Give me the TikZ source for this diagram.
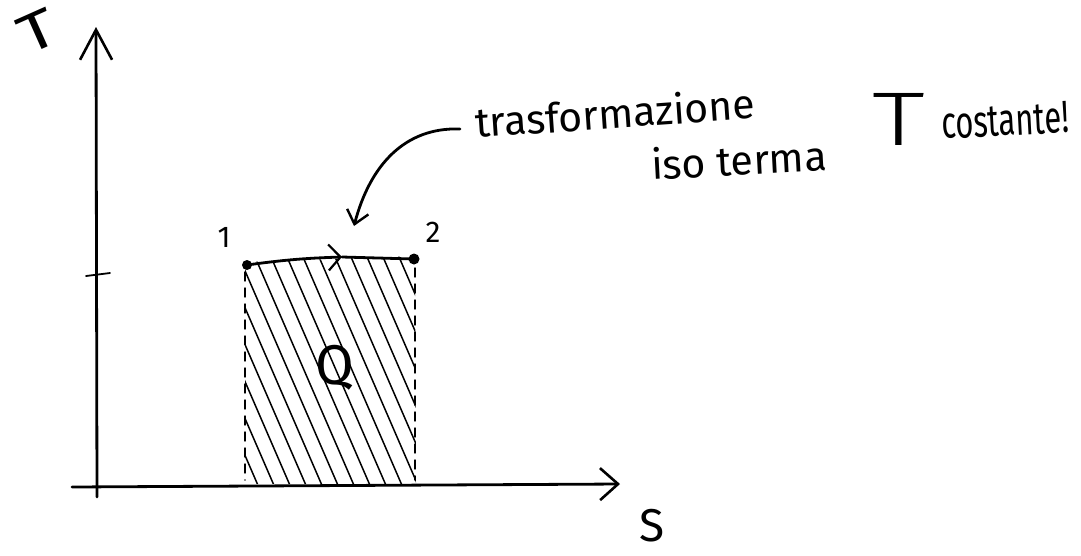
\documentclass[tikz,border=0pt]{standalone}
\usepackage{fontspec}
\usepackage{graphicx}
\setmainfont{Fira Sans}
\newfontfamily\lightfont{Fira Sans Light}
\usetikzlibrary{arrows.meta}
\begin{document}
\begin{tikzpicture}[x=1pt,y=-1pt,line cap=round,line join=round,
  ink/.style={line width=2.8pt,black},
  thin ink/.style={line width=1.4pt,black},
  smalltip/.style={-{Straight Barb[length=12pt,width=26pt,line width=2.2pt]}},
  curvetip/.style={-{Straight Barb[length=13pt,width=22pt,line width=2.4pt]}},
  lbl/.style={inner sep=0pt,font=\fontsize{30}{30}\selectfont},
  hand/.style={inner sep=0pt,anchor=base west}]
\useasboundingbox (0,0) rectangle (1081,555);
% axes
\coordinate (yb) at (97,497);
\coordinate (yt) at (96,27);
\coordinate (xl) at (72,487);
\coordinate (xr) at (620,484);
\draw[ink,-{Straight Barb[length=30pt,width=32pt,line width=2.6pt]}] (yb) -- (yt);
\draw[ink,-{Straight Barb[length=18pt,width=32pt,line width=2.6pt]}] (xl) -- (xr);
% tick
\coordinate (tk1) at (86,276);
\coordinate (tk2) at (110,273);
\draw[line width=1.8pt] (tk1) -- (tk2);
% axis labels
\node[lbl,rotate=24,font=\fontsize{54}{54}\selectfont] (T) at (38,31) {\scalebox{1.3}[1]{T}};
\node[lbl,font=\fontsize{46}{46}\selectfont] (S) at (652,526) {S};
% hatched region
\begin{scope}
  \clip (245,262) -- (415,256) -- (416,484) -- (245,484) -- cycle;
  \foreach \s in {140,156,...,430} {
    \draw[thin ink,line width=1.5pt] (\s,250) -- (\s+104,490);
  }
\end{scope}
\coordinate (d1t) at (245,272);
\coordinate (d1b) at (245,480);
\coordinate (d2t) at (415,268);
\coordinate (d2b) at (415,480);
\draw[thin ink,dash pattern=on 9pt off 7pt] (d1t) -- (d1b);
\draw[thin ink,dash pattern=on 9pt off 7pt] (d2t) -- (d2b);
% states
\node[circle,fill=black,inner sep=0pt,minimum size=10pt] (p1) at (247,265) {};
\node[circle,fill=black,inner sep=0pt,minimum size=11pt] (p2) at (414,259) {};
\coordinate (mid) at (342,257);
\draw[ink,smalltip] (p1.center) to[bend left=3] (mid);
\draw[ink] (mid) -- (p2.center);
\node[lbl] (n1) at (224,237) {1};
\node[lbl] (n2) at (433,232) {2};
\node[lbl,font=\fontsize{56}{56}\selectfont] (Q) at (335,368) {Q};
% curved pointer
\coordinate (cs) at (460,129);
\coordinate (ce) at (354,226);
\draw[ink,curvetip] (cs) .. controls (405,127) and (370,165) .. (ce);
% annotation text
\node[hand,rotate=4,font=\fontsize{41}{41}\selectfont] (t1) at (476,138) {trasformazione};
\node[hand,rotate=3,font=\fontsize{41}{41}\selectfont] (t2) at (652,180) {iso terma};
\node[hand,font=\lightfont\fontsize{76}{76}\selectfont] (t3) at (872,145) {\scalebox{1.4}[1]{T}};
\node[hand,rotate=3,font=\fontsize{31}{31}\selectfont] (t4) at (942,139) {\scalebox{1}[1.45]{costante!}};
\end{tikzpicture}
\end{document}
